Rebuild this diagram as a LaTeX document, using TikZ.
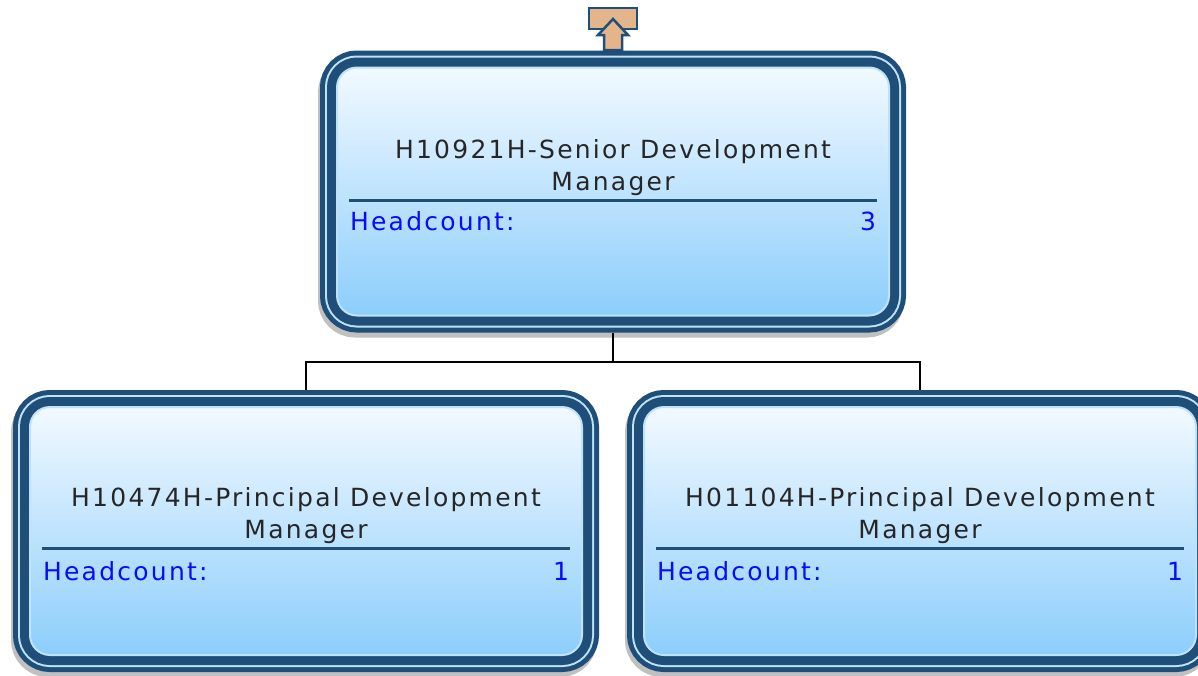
\documentclass[tikz,border=0pt]{standalone}
\usepackage{fontspec}
\setmainfont{DejaVu Sans}[LetterSpace=9]
\usepackage{xcolor}
\usepackage{tikz}
\usetikzlibrary{positioning}

\definecolor{boxdark}{RGB}{31,78,121}
\definecolor{boxring}{RGB}{190,226,248}
\definecolor{filltop}{RGB}{242,249,255}
\definecolor{fillbot}{RGB}{140,206,252}
\definecolor{hcblue}{RGB}{10,10,250}
\definecolor{uptan}{RGB}{228,181,138}
\definecolor{shade}{RGB}{192,192,192}

\begin{document}
\begin{tikzpicture}[
  x=1pt, y=-1pt,
  posbox/.style={rounded corners=20pt, minimum width=552pt, minimum height=248pt,
                 outer sep=17pt, inner sep=0pt,
                 top color=filltop, bottom color=fillbot, draw=boxring, line width=2pt,
                 preaction={draw=shade, fill=shade, line width=34pt,
                            transform canvas={shift={(-2pt,-5pt)}}},
                 preaction={draw=boxdark, line width=34pt},
                 preaction={draw=boxring, line width=24pt},
                 preaction={draw=boxdark, line width=20pt}},
  title/.style={align=center, font=\fontsize{25}{32}\selectfont, text=black!85, inner sep=0pt},
  hcrow/.style={anchor=base, text width=526pt, inner xsep=1pt, inner ysep=0pt,
                font=\fontsize{25}{30}\selectfont, text=hcblue},
  sepline/.style={draw=boxdark, line width=3pt},
  conn/.style={draw=black, line width=2pt},
  upbtn/.style={draw=boxdark, fill=uptan, line width=2.5pt}]
\useasboundingbox (0,0) rectangle (1198,675);
% boxes
\node[posbox] (top) at (613,191.5) {};
\node[posbox] (left) at (306,531) {};
\node[posbox] (right) at (920,531) {};
% connectors
\draw[conn] (top.south) -- ++(0,29) coordinate (fork);
\draw[conn] (fork) -| (left.north);
\draw[conn] (fork) -| (right.north);
% go-up button
\node[upbtn, minimum width=48pt, minimum height=21pt, inner sep=0pt] (upkey) at (613,18.5) {};
\draw[upbtn, line join=miter] (613,19) -- (628,35) -- (622,35) -- (622,50) -- (604,50)
  -- (604,35) -- (598,35) -- cycle;
% texts
\node[title] (toptitle) at (613,168) {H10921H-Senior Development\\Manager};
\node[hcrow] (tophc) at (613,230) {Headcount:\hfill 3};
\draw[sepline] ([yshift=30pt]tophc.base west) -- ([yshift=30pt]tophc.base east);
\node[title] (lefttitle) at (306,516) {H10474H-Principal Development\\Manager};
\node[hcrow] (lefthc) at (306,580) {Headcount:\hfill 1};
\draw[sepline] ([yshift=32pt]lefthc.base west) -- ([yshift=32pt]lefthc.base east);
\node[title] (righttitle) at (920,516) {H01104H-Principal Development\\Manager};
\node[hcrow] (righthc) at (920,580) {Headcount:\hfill 1};
\draw[sepline] ([yshift=32pt]righthc.base west) -- ([yshift=32pt]righthc.base east);
\end{tikzpicture}
\end{document}
